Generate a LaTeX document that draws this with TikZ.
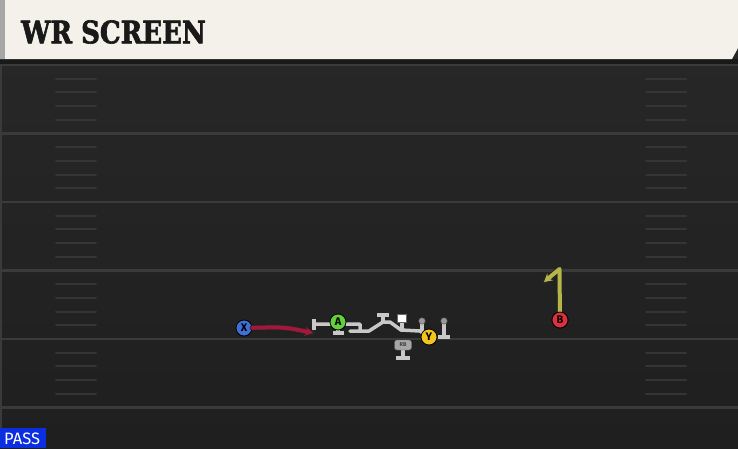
\documentclass[tikz,border=0pt]{standalone}
\usepackage{fontspec}
\setmainfont{Fira Sans}
\newfontfamily\slabfont{DejaVu Serif}[UprightFont=* Bold,FakeStretch=0.84,FakeBold=2]
\usetikzlibrary{arrows.meta}
\definecolor{fieldtop}{HTML}{282828}
\definecolor{fieldbot}{HTML}{1F1F1F}
\definecolor{yardline}{HTML}{3A3A3A}
\definecolor{hashmark}{HTML}{353535}
\definecolor{banner}{HTML}{F4F1EA}
\definecolor{blockgray}{HTML}{C8C8C8}
\definecolor{xblue}{HTML}{3D6FD6}
\definecolor{agreen}{HTML}{62CF3C}
\definecolor{yyellow}{HTML}{F2C41E}
\definecolor{bred}{HTML}{DF2F3C}
\definecolor{xroute}{HTML}{A3173A}
\definecolor{broute}{HTML}{B5B54A}
\definecolor{passblue}{HTML}{0A2EE0}
\begin{document}
\begin{tikzpicture}[x=1pt,y=-1pt,line join=round,line cap=round,>={Stealth[length=8pt,width=9pt]},
  player/.style={circle,draw=black,line width=0.8pt,minimum size=16pt,inner sep=0pt,font=\fontsize{11}{11}\selectfont\bfseries},
  blk/.style={draw=blockgray,line width=3.5pt},
  route/.style={line width=4pt,preaction={draw=black!85,line width=5.5pt,-}}]
\useasboundingbox (0,0) rectangle (738,448);
\shade[top color=fieldtop,bottom color=fieldbot] (0,0) rectangle (738,448);
\fill[yardline] (0,59) rectangle (2,448);
% yard lines and hashes
\foreach \y in {65,133.5,202,270.5,339,407.5}{\draw[yardline,line width=2.5pt,line cap=butt] (0,\y)--(738,\y);}
\foreach \y in {65,133.5,202,270.5,339}{\foreach \k in {1,...,4}{\draw[hashmark,line width=2pt] (56,\y+\k*13.7)--(96,\y+\k*13.7) (646,\y+\k*13.7)--(686,\y+\k*13.7);}}
% title
\fill[black!90] (0,59) rectangle (738,64);
\fill[banner] (0,0)--(738,0)--(738,48)--(732,59)--(0,59)--cycle;
\fill[black!35] (0,0) rectangle (5,59);
\node[anchor=west,inner sep=0pt,text=black!90,font=\slabfont\fontsize{31}{32}\selectfont] (title) at (21,32) {WR SCREEN};
\fill[passblue] (0,428) rectangle (46,448);
\node[anchor=west,inner sep=0pt,text=white,font=\fontsize{16.5}{17}\selectfont] (pass) at (4,439) {PASS};
% blocking
\draw[blk,line cap=butt] (314,319)--(314,330) (333,333)--(344,333) (377,315)--(389,315) (438,337)--(450,337) (396,358)--(410,358);
\draw[blk] (314,324)--(338,324)--(360,324)--(360,331) (350,331)--(369,331)--(383,322)--(390,322)--(401,330)--(420,331)--(429,337);
\draw[blk] (338,322)--(338,333) (383,321)--(383,315) (402,318)--(402,330) (422,321)--(422,332) (444,321)--(444,337) (403,345)--(403,357);
\fill[white,draw=black!60,line width=0.5pt] (397.5,314) rectangle (406.5,322);
\foreach \x in {422,444}{\fill[black!40,draw=black!60,line width=0.5pt] (\x,321) circle (3.2pt);}
\node[draw=black!60,fill=black!35,rounded corners=2.5pt,minimum width=17pt,minimum height=10pt,inner sep=0pt,text=black!75,font=\fontsize{5.5}{6}\selectfont\bfseries] (rb) at (403,345) {RB};
% players and routes
\node[player,fill=xblue] (X) at (244,328) {X};
\node[player,fill=agreen] (A) at (338,322) {A};
\node[player,fill=yyellow] (Y) at (429,337) {Y};
\node[player,fill=bred] (B) at (560,320) {B};
\coordinate (xend) at (313,333);
\coordinate (btop) at (559.5,269);
\coordinate (bend) at (544,282);
\draw[route,xroute,->] (X) .. controls (285,327) .. (xend);
\draw[route,broute,->] (B)--(btop)--(bend);
\node[player,fill=bred] at (B) {B};
\end{tikzpicture}
\end{document}
